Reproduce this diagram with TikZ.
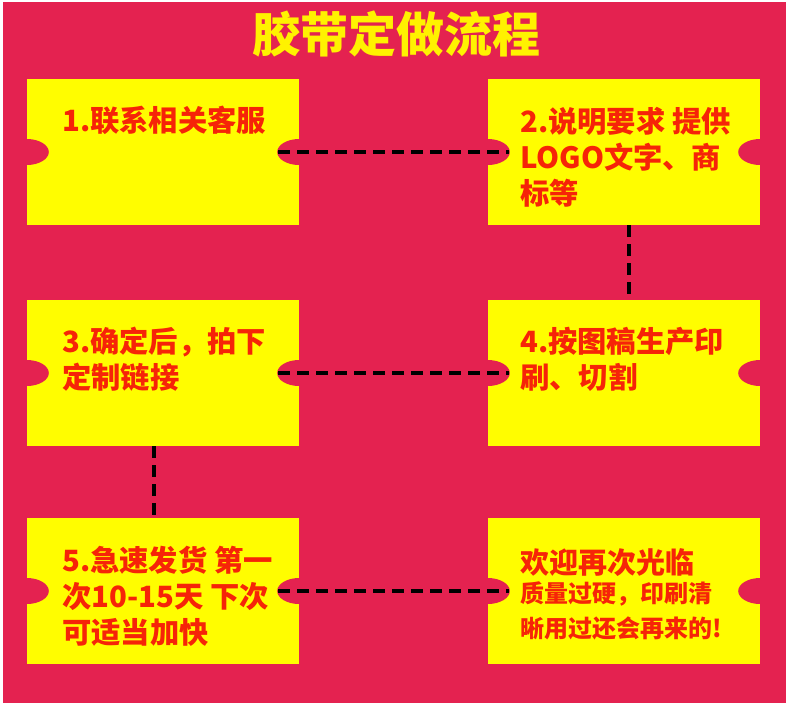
\documentclass[tikz,border=0pt]{standalone}
\usepackage{fontspec}
\newfontfamily\cjk{Noto Sans CJK SC}
\usepackage{xcolor}
\usepackage{tikz}

\definecolor{bgred}{RGB}{228,34,80}
\definecolor{boxyellow}{RGB}{255,253,0}
\definecolor{txtred}{RGB}{246,36,8}

\begin{document}
\begin{tikzpicture}[x=1pt,y=-1pt,
  box/.style={fill=boxyellow, minimum width=272pt, minimum height=146pt, inner sep=0pt},
  txt/.style={anchor=north west, inner sep=0pt, align=left, text=txtred,
    font=\cjk\bfseries\fontsize{29.3}{36}\selectfont},
  link/.style={draw=black, line width=3.2pt, dash pattern=on 12pt off 7pt}]
  % Canvas
  \useasboundingbox (0,0) rectangle (790,726);
  \fill[white] (0,0) rectangle (790,726);
  \fill[bgred] (3,2) rectangle (786,703);

  % Title
  \node[text=yellow, font=\cjk\bfseries\fontsize{48}{48}\selectfont] (title) at (396,34) {胶带定做流程};

  % Yellow boxes, two columns
  \node[box] (b1) at (163,152) {};
  \node[box] (b2) at (624,152) {};
  \node[box] (b3) at (163,373) {};
  \node[box] (b4) at (624,373) {};
  \node[box] (b5) at (163,591) {};
  \node[box] (b6) at (624,591) {};

  % Notches on both sides
  \foreach \b in {b1,b2,b3,b4,b5,b6}{
    \fill[bgred] (\b.west) ellipse (22pt and 13pt);
    \fill[bgred] (\b.east) ellipse (22pt and 13pt);
  }

  % Texts
  \node[txt] (t1) at (62,106) {1.联系相关客服};
  \node[txt] (t2) at (520,107) {2.说明要求 提供\\LOGO文字、商\\标等};
  \node[txt] (t3) at (62,327) {3.确定后，拍下\\定制链接};
  \node[txt] (t4) at (520,327) {4.按图稿生产印\\刷、切割};
  \node[txt] (t5) at (62,546) {5.急速发货 第一\\次10-15天 下次\\可适当加快};
  \node[txt, font=\cjk\bfseries\fontsize{24}{35}\selectfont] (t6) at (520,548)
    {{\fontsize{29}{35}\selectfont 欢迎再次光临}\\[-6pt]质量过硬，印刷清\\晰用过还会再来的!};

  % Dashed links
  \draw[link] ([xshift=-21pt]b1.east) -- ([xshift=21pt]b2.west);
  \draw[link] ([xshift=5pt]b2.south) -- ([xshift=5pt]b4.north);
  \draw[link] ([xshift=-21pt]b3.east) -- ([xshift=21pt]b4.west);
  \draw[link] ([xshift=-9pt]b3.south) -- ([xshift=-9pt]b5.north);
  \draw[link] ([xshift=-21pt]b5.east) -- ([xshift=21pt]b6.west);
\end{tikzpicture}
\end{document}
